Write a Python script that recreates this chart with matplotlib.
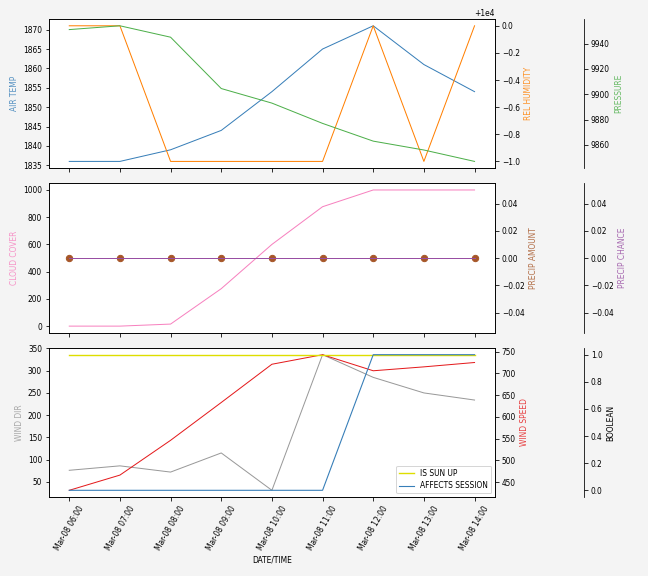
import matplotlib
matplotlib.use("Agg")
import matplotlib.pyplot as plt
import matplotlib.dates as mdates
import pandas as pd
import numpy as np

times = pd.date_range("2021-03-08 06:00", periods=9, freq="h")
air_temp = [1836, 1836, 1839, 1844, 1854, 1865, 1871, 1861, 1854]
rel_humidity = [10000, 10000, 9999, 9999, 9999, 9999, 10000, 9999, 10000]
pressure = [9951, 9954, 9945, 9904.5, 9893, 9877, 9863, 9856, 9847]
cloud_cover = [0, 0, 15, 275, 600, 877, 1000, 1000, 1000]
precip_amount = [0, 0, 0, 0, 0, 0, 0, 0, 0]
precip_chance = [0, 0, 0, 0, 0, 0, 0, 0, 0]
wind_dir = [76, 86, 72, 115, 31, 336, 285, 250, 234]
wind_speed = [431, 466, 546, 633, 721, 743, 706, 715, 725]
is_sun_up = [1, 1, 1, 1, 1, 1, 1, 1, 1]
affects_session = [0, 0, 0, 0, 0, 0, 1, 1, 1]

plt.rcParams['font.size'] = 7.5
plt.rcParams['font.family'] = ['DejaVu Sans']

C_BLUE = "#377eb8"
C_ORANGE = "#ff7f00"
C_GREEN = "#4daf4a"
C_PINK = "#f781bf"
C_BROWN = "#a65628"
C_PURPLE = "#984ea3"
C_GREY = "#999999"
C_RED = "#e41a1c"
C_YELLOW = "#dede00"
LW = 1.0

fig = plt.figure(figsize=(9, 8), dpi=72, facecolor="#f4f4f4")
left, width = 0.0756, 0.688
ax1 = fig.add_axes([left, 0.708, width, 0.259])
ax2 = fig.add_axes([left, 0.422, width, 0.260], sharex=ax1)
ax3 = fig.add_axes([left, 0.137, width, 0.259], sharex=ax1)


def third_axis(ax):
    t = ax.twinx()
    t.spines["right"].set_position(("axes", 1.2))
    t.set_frame_on(True)
    t.patch.set_visible(False)
    for s in ("left", "top", "bottom"):
        t.spines[s].set_visible(False)
    return t

# Panel 1
ax1.plot(times, air_temp, color=C_BLUE, lw=LW)
ax1.set_ylabel("AIR TEMP", color=C_BLUE, alpha=0.85)
a1b = ax1.twinx()
a1b.plot(times, rel_humidity, color=C_ORANGE, lw=LW)
a1b.set_ylabel("REL HUMIDITY", color=C_ORANGE, alpha=0.85)
a1c = third_axis(ax1)
a1c.plot(times, pressure, color=C_GREEN, lw=LW)
a1c.set_ylabel("PRESSURE", color=C_GREEN, alpha=0.85)

# Panel 2
ax2.plot(times, cloud_cover, color=C_PINK, lw=LW)
ax2.set_ylabel("CLOUD COVER", color=C_PINK, alpha=0.85)
a2b = ax2.twinx()
a2b.scatter(times, precip_amount, color=C_BROWN, s=40, zorder=3)
a2b.set_ylabel("PRECIP AMOUNT", color=C_BROWN, alpha=0.85)
a2c = third_axis(ax2)
a2c.plot(times, precip_chance, color=C_PURPLE, lw=LW)
a2c.set_ylabel("PRECIP CHANCE", color=C_PURPLE, alpha=0.85)

# Panel 3
ax3.plot(times, wind_dir, color=C_GREY, lw=LW)
ax3.set_ylabel("WIND DIR", color=C_GREY, alpha=0.85)
a3b = ax3.twinx()
a3b.plot(times, wind_speed, color=C_RED, lw=LW)
a3b.set_ylabel("WIND SPEED", color=C_RED, alpha=0.85)
a3c = third_axis(ax3)
a3c.plot(times, is_sun_up, color=C_YELLOW, lw=1.4, label="IS SUN UP")
a3c.plot(times, affects_session, color=C_BLUE, lw=1.1, label="AFFECTS SESSION")
a3c.set_ylabel("BOOLEAN")
a3c.legend(loc="lower right", fontsize=7.5)

ax3.xaxis.set_major_locator(mdates.HourLocator())
ax3.xaxis.set_major_formatter(mdates.DateFormatter("%b-%d %H:%M"))
plt.setp(ax1.get_xticklabels(), visible=False)
plt.setp(ax2.get_xticklabels(), visible=False)
plt.setp(ax3.get_xticklabels(), rotation=60, ha="center")
ax3.set_xlabel("DATE/TIME")

fig.savefig("out.png", dpi=72, facecolor=fig.get_facecolor())
